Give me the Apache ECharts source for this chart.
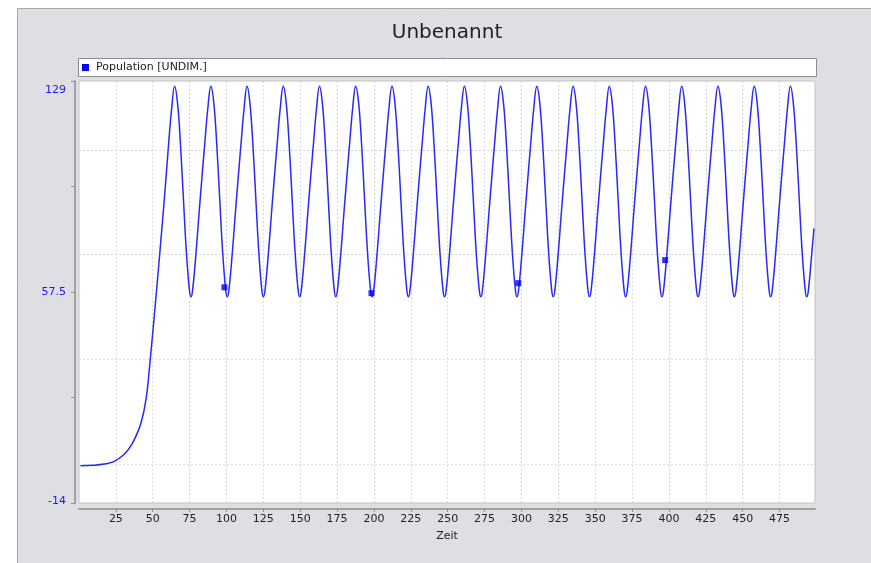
<!DOCTYPE html>
<html><head><meta charset="utf-8">
<script src="https://cdn.jsdelivr.net/npm/echarts@6/dist/echarts.min.js"></script>
<style>html,body{margin:0;padding:0;background:#fff;}#c{width:871px;height:563px;}</style>
</head><body><div id="c"></div>
<script>
const chartTitle = 'Unbenannt';
const seriesName = 'Population [UNDIM.]';
const xName = 'Zeit';

const time = [
  1, 10, 17, 24, 30, 34, 38, 42, 45.4, 48.3, 51.5, 55, 58.5, 60.8, 62.8,
  64.8, 66.8, 68.8, 70.8, 72.8, 74.8, 75.9, 77.0, 79.3, 81.3, 83.3, 85.3, 87.3,
  89.4, 91.4, 93.4, 95.4, 97.4, 99.4, 100.5, 101.6, 103.9, 105.9, 107.9, 109.9, 111.9,
  113.9, 115.9, 117.9, 119.9, 121.9, 123.9, 125.0, 126.1, 128.4, 130.4, 132.4, 134.4, 136.4,
  138.5, 140.5, 142.5, 144.5, 146.5, 148.5, 149.6, 150.7, 153.0, 155.0, 157.0, 159.0, 161.0,
  163.0, 165.0, 167.0, 169.0, 171.0, 173.0, 174.1, 175.2, 177.5, 179.5, 181.5, 183.5, 185.5,
  187.6, 189.6, 191.6, 193.6, 195.6, 197.6, 198.7, 199.8, 202.1, 204.1, 206.1, 208.1, 210.1,
  212.2, 214.2, 216.2, 218.2, 220.2, 222.2, 223.3, 224.4, 226.7, 228.7, 230.7, 232.7, 234.7,
  236.7, 238.7, 240.7, 242.7, 244.7, 246.7, 247.8, 248.9, 251.2, 253.2, 255.2, 257.2, 259.2,
  261.3, 263.3, 265.3, 267.3, 269.3, 271.3, 272.4, 273.5, 275.8, 277.8, 279.8, 281.8, 283.8,
  285.8, 287.8, 289.8, 291.8, 293.8, 295.8, 296.9, 298.0, 300.3, 302.3, 304.3, 306.3, 308.3,
  310.4, 312.4, 314.4, 316.4, 318.4, 320.4, 321.5, 322.6, 324.9, 326.9, 328.9, 330.9, 332.9,
  335.0, 337.0, 339.0, 341.0, 343.0, 345.0, 346.1, 347.2, 349.5, 351.5, 353.5, 355.5, 357.5,
  359.5, 361.5, 363.5, 365.5, 367.5, 369.5, 370.6, 371.7, 374.0, 376.0, 378.0, 380.0, 382.0,
  384.1, 386.1, 388.1, 390.1, 392.1, 394.1, 395.2, 396.3, 398.6, 400.6, 402.6, 404.6, 406.6,
  408.6, 410.6, 412.6, 414.6, 416.6, 418.6, 419.7, 420.8, 423.1, 425.1, 427.1, 429.1, 431.1,
  433.2, 435.2, 437.2, 439.2, 441.2, 443.2, 444.3, 445.4, 447.7, 449.7, 451.7, 453.7, 455.7,
  457.8, 459.8, 461.8, 463.8, 465.8, 467.8, 468.9, 470.0, 472.3, 474.3, 476.3, 478.3, 480.3,
  482.3, 484.3, 486.3, 488.3, 490.3, 492.3, 493.4, 494.5, 496.8, 498.3
];
const population = [
  -1.4, -1.2, -0.8, 0.1, 2.2, 4.5, 8, 13, 21, 34.6, 52, 72, 93, 108, 119.5,
  127.2, 121.5, 107.5, 89, 71, 58.5, 55.9, 58.0, 70.5, 83.5, 96, 108, 119.5,
  127.2, 121.5, 107.5, 89, 71, 58.5, 55.9, 58.0, 70.5, 83.5, 96, 108, 119.5,
  127.2, 121.5, 107.5, 89, 71, 58.5, 55.9, 58.0, 70.5, 83.5, 96, 108, 119.5,
  127.2, 121.5, 107.5, 89, 71, 58.5, 55.9, 58.0, 70.5, 83.5, 96, 108, 119.5,
  127.2, 121.5, 107.5, 89, 71, 58.5, 55.9, 58.0, 70.5, 83.5, 96, 108, 119.5,
  127.2, 121.5, 107.5, 89, 71, 58.5, 55.9, 58.0, 70.5, 83.5, 96, 108, 119.5,
  127.2, 121.5, 107.5, 89, 71, 58.5, 55.9, 58.0, 70.5, 83.5, 96, 108, 119.5,
  127.2, 121.5, 107.5, 89, 71, 58.5, 55.9, 58.0, 70.5, 83.5, 96, 108, 119.5,
  127.2, 121.5, 107.5, 89, 71, 58.5, 55.9, 58.0, 70.5, 83.5, 96, 108, 119.5,
  127.2, 121.5, 107.5, 89, 71, 58.5, 55.9, 58.0, 70.5, 83.5, 96, 108, 119.5,
  127.2, 121.5, 107.5, 89, 71, 58.5, 55.9, 58.0, 70.5, 83.5, 96, 108, 119.5,
  127.2, 121.5, 107.5, 89, 71, 58.5, 55.9, 58.0, 70.5, 83.5, 96, 108, 119.5,
  127.2, 121.5, 107.5, 89, 71, 58.5, 55.9, 58.0, 70.5, 83.5, 96, 108, 119.5,
  127.2, 121.5, 107.5, 89, 71, 58.5, 55.9, 58.0, 70.5, 83.5, 96, 108, 119.5,
  127.2, 121.5, 107.5, 89, 71, 58.5, 55.9, 58.0, 70.5, 83.5, 96, 108, 119.5,
  127.2, 121.5, 107.5, 89, 71, 58.5, 55.9, 58.0, 70.5, 83.5, 96, 108, 119.5,
  127.2, 121.5, 107.5, 89, 71, 58.5, 55.9, 58.0, 70.5, 83.5, 96, 108, 119.5,
  127.2, 121.5, 107.5, 89, 71, 58.5, 55.9, 58.0, 70.5, 79
];
const markerTime = [98.6, 198.3, 297.8, 397.4];
const markerValue = [59.1, 57.1, 60.5, 68.3];

const xTicks = [25, 50, 75, 100, 125, 150, 175, 200, 225, 250, 275, 300, 325, 350, 375, 400, 425, 450, 475];
const yTicks = [-14, 21.75, 57.5, 93.25, 129];
const yLabels = [-14, 57.5, 129];
const yGrid = [-0.7, 34.6, 70.3, 105.4];

const FONT = 'DejaVu Sans';
const chart = echarts.init(document.getElementById('c'), null, {renderer: 'canvas'});
const lineData = time.map((t, i) => [t, population[i]]);
const markerData = markerTime.map((t, i) => [t, markerValue[i]]);

const yLabelRich = {
  t: {padding: [18, 0, 0, 0], color: '#1a1aff', fontSize: 11, fontFamily: FONT},
  m: {color: '#1a1aff', fontSize: 11, fontFamily: FONT},
  b: {padding: [0, 0, 3, 0], color: '#1a1aff', fontSize: 11, fontFamily: FONT}
};

chart.setOption({
  animation: false,
  backgroundColor: '#ffffff',
  graphic: [
    {type: 'rect', silent: true, z: -10, shape: {x: 17.5, y: 8.5, width: 900, height: 600},
     style: {fill: '#dfdfe3', stroke: '#a9a9ad', lineWidth: 1}},
    {type: 'rect', silent: true, z: -5, shape: {x: 78.5, y: 58.5, width: 738, height: 18},
     style: {fill: '#ffffff', stroke: '#8c8c8c', lineWidth: 1}}
  ],
  title: {
    text: chartTitle, left: 447, top: 23, textAlign: 'center', padding: 0,
    textStyle: {fontFamily: FONT, fontSize: 20, fontWeight: 'normal', color: '#222'}
  },
  legend: {
    data: [seriesName], left: 82, top: 62, padding: 0, icon: 'rect',
    itemWidth: 7, itemHeight: 7,
    textStyle: {fontFamily: FONT, fontSize: 11, color: '#222', padding: [0, 0, 0, 2]}
  },
  grid: {
    left: 79, top: 81, right: 56, bottom: 60,
    show: true, backgroundColor: '#ffffff', borderColor: '#c4c4c4', borderWidth: 1
  },
  xAxis: {
    type: 'value', min: 0, max: 499, offset: 6,
    name: xName, nameLocation: 'middle', nameGap: 22,
    nameTextStyle: {fontFamily: FONT, fontSize: 11, color: '#222'},
    axisLine: {onZero: false, lineStyle: {color: '#a0a0a0', width: 2}},
    axisTick: {customValues: xTicks, length: 3, lineStyle: {color: '#909090'}},
    axisLabel: {customValues: xTicks, fontFamily: FONT, fontSize: 11, color: '#222', margin: 5},
    splitLine: {show: true, lineStyle: {color: '#dadada', type: [2, 2], width: 1}}
  },
  yAxis: [
    {
      type: 'value', min: -14, max: 129, offset: 4, position: 'left',
      axisLine: {show: true, onZero: false, lineStyle: {color: '#a0a0a0', width: 2}},
      axisTick: {show: true, customValues: yTicks, length: 4, lineStyle: {color: '#909090'}},
      axisLabel: {
        customValues: yLabels, margin: 9, fontFamily: FONT, fontSize: 11, color: '#1a1aff',
        formatter: v => v === 129 ? '{t|' + v + '}' : (v === -14 ? '{b|' + v + '}' : '{m|' + v + '}'),
        rich: yLabelRich
      },
      splitLine: {show: false}
    },
    {
      type: 'value', min: -14, max: 129, position: 'left',
      axisLine: {show: false, onZero: false},
      axisTick: {show: false, customValues: yGrid},
      axisLabel: {show: false},
      splitLine: {show: true, lineStyle: {color: '#dadada', type: [2, 2], width: 1}}
    }
  ],
  series: [
    {
      name: seriesName, type: 'line', data: lineData, smooth: 0.4,
      showSymbol: false, symbol: 'rect', xAxisIndex: 0, yAxisIndex: 0,
      itemStyle: {color: '#0000ff'},
      lineStyle: {color: '#2828ff', width: 1.5}
    },
    {
      name: 'marker', type: 'scatter', data: markerData, symbol: 'rect', symbolSize: 6,
      xAxisIndex: 0, yAxisIndex: 0, itemStyle: {color: '#0000ff'}, z: 5
    }
  ]
});
</script>
</body></html>
